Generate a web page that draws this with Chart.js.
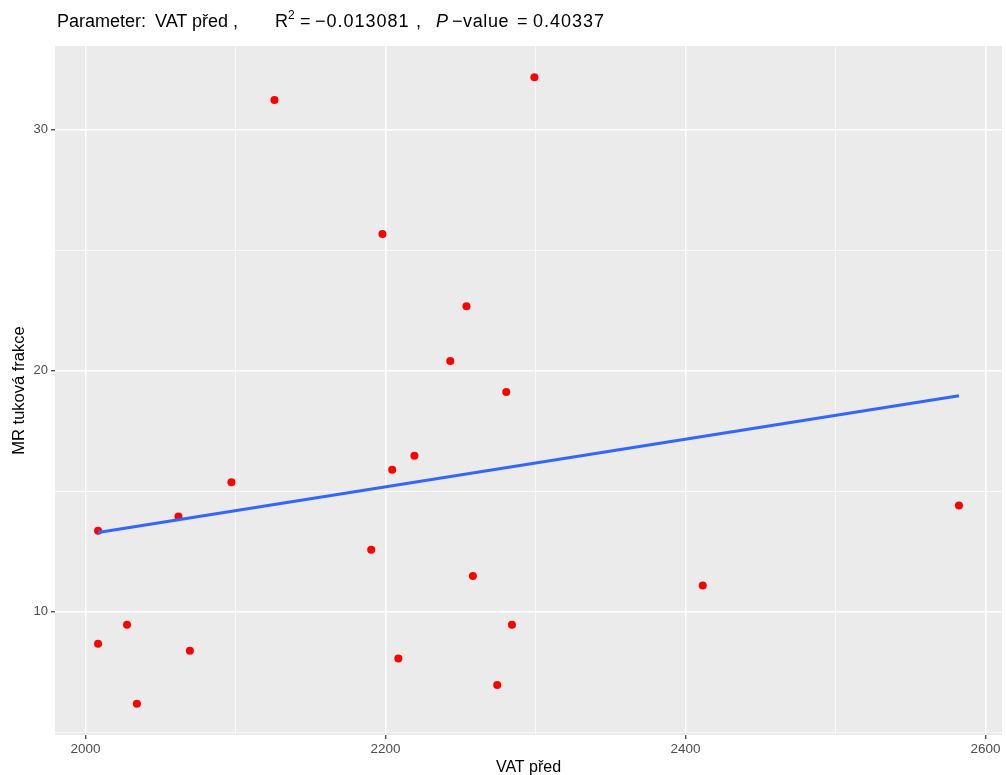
<!doctype html>
<html lang="cs">
  <head>
    <meta charset="UTF-8" />
    <title>VAT před vs MR tuková frakce</title>
    <script src="https://cdn.jsdelivr.net/npm/chart.js"></script>
    <style>
      body {
        margin: 0;
        background: #fff;
        font-family: "Liberation Sans", Arial, sans-serif;
      }
      #wrap {
        position: relative;
        width: 1006px;
        height: 775px;
      }
      #title span {
        position: absolute;
        top: 11px;
        font-size: 18px;
        line-height: 20px;
        color: #000;
        white-space: pre;
      }
      #title .num {
        letter-spacing: 1px;
      }
      #title sup {
        font-size: 12px;
        vertical-align: 8px;
        line-height: 0;
      }
    </style>
  </head>
  <body>
    <div id="wrap">
      <canvas id="chart" width="1006" height="775"></canvas>
      <div id="title">
        <span style="left: 57px">Parameter:</span>
        <span style="left: 155px">VAT před ,</span>
        <span style="left: 275px">R<sup>2</sup></span>
        <span style="left: 300px">=</span>
        <span class="num" style="left: 315px">−0.013081</span>
        <span style="left: 416px">,</span>
        <span style="left: 436px"><i>P</i></span>
        <span style="left: 452px; letter-spacing: 0.6px">−value</span>
        <span style="left: 517px">=</span>
        <span class="num" style="left: 533px">0.40337</span>
      </div>
    </div>

    <script>
      // VAT před (x) and MR tuková frakce (y)
      const vatPred = [
        2008.4, 2008.4, 2027.7, 2034.3, 2062.0, 2069.6, 2097.3, 2126.0, 2190.5, 2198.0, 2204.5,
        2208.6, 2219.3, 2243.2, 2254.0, 2258.3, 2274.5, 2280.5, 2284.3, 2299.3, 2411.5, 2582.3,
      ];
      const mrFrakce = [
        13.36, 8.67, 9.46, 6.18, 13.95, 8.38, 15.37, 31.23, 12.57, 25.67, 15.89,
        8.05, 16.47, 20.4, 22.67, 11.48, 6.95, 19.11, 9.46, 32.17, 11.08, 14.4,
      ];

      // linear fit line end points
      const fitX = [2008.4, 2582.3];
      const fitY = [13.28, 18.96];

      const xMajor = [2000, 2200, 2400, 2600];
      const yMajor = [10, 20, 30];

      const panelBg = {
        id: "panelBg",
        beforeDraw(chart) {
          const { ctx, chartArea } = chart;
          ctx.save();
          ctx.fillStyle = "#EBEBEB";
          ctx.fillRect(chartArea.left, chartArea.top, chartArea.width, chartArea.height);
          ctx.restore();
        },
      };

      const isMajor = (list) => (c) => c.tick && list.includes(c.tick.value);

      new Chart(document.getElementById("chart"), {
        type: "scatter",
        data: {
          datasets: [
            {
              type: "line",
              data: fitX.map((x, i) => ({ x: x, y: fitY[i] })),
              borderColor: "#3366FF",
              borderWidth: 3,
              pointRadius: 0,
              fill: false,
              order: 0,
            },
            {
              data: vatPred.map((x, i) => ({ x: x, y: mrFrakce[i] })),
              backgroundColor: "#FF0000",
              borderWidth: 0,
              pointRadius: 4,
              order: 1,
            },
          ],
        },
        options: {
          responsive: false,
          animation: false,
          layout: { padding: { top: 46, right: 3, left: 0, bottom: 0 } },
          plugins: {
            legend: { display: false },
            tooltip: { enabled: false },
          },
          scales: {
            x: {
              type: "linear",
              min: 1979.7,
              max: 2611,
              afterFit: (s) => {
                s.height = 40;
              },
              ticks: {
                stepSize: 100,
                includeBounds: false,
                autoSkip: false,
                maxRotation: 0,
                padding: 2,
                color: "#4D4D4D",
                font: { family: "Liberation Sans", size: 13.5 },
                callback: (v) => (xMajor.includes(v) ? v : ""),
              },
              grid: {
                color: "#FFFFFF",
                lineWidth: (c) => (isMajor(xMajor)(c) ? 1.5 : 0.75),
                tickColor: (c) => (isMajor(xMajor)(c) ? "#333333" : "rgba(0,0,0,0)"),
                tickWidth: 1.2,
                tickLength: 4,
              },
              border: { display: false },
              title: {
                display: true,
                text: "VAT před",
                color: "#000",
                font: { family: "Liberation Sans", size: 16, lineHeight: 1 },
                padding: { top: 0, bottom: -1 },
              },
            },
            y: {
              type: "linear",
              min: 4.88,
              max: 33.47,
              afterFit: (s) => {
                s.width = 55;
              },
              ticks: {
                stepSize: 5,
                includeBounds: false,
                autoSkip: false,
                padding: 3,
                color: "#4D4D4D",
                font: { family: "Liberation Sans", size: 13 },
                callback: (v) => (yMajor.includes(v) ? v : ""),
              },
              grid: {
                color: "#FFFFFF",
                lineWidth: (c) => (isMajor(yMajor)(c) ? 1.5 : 0.75),
                tickColor: (c) => (isMajor(yMajor)(c) ? "#333333" : "rgba(0,0,0,0)"),
                tickWidth: 1.2,
                tickLength: 4,
              },
              border: { display: false },
              title: {
                display: true,
                text: "MR tuková frakce",
                color: "#000",
                font: { family: "Liberation Sans", size: 16.5, lineHeight: 1 },
                padding: { top: 11, bottom: 0 },
              },
            },
          },
        },
        plugins: [panelBg],
      });
    </script>
  </body>
</html>
